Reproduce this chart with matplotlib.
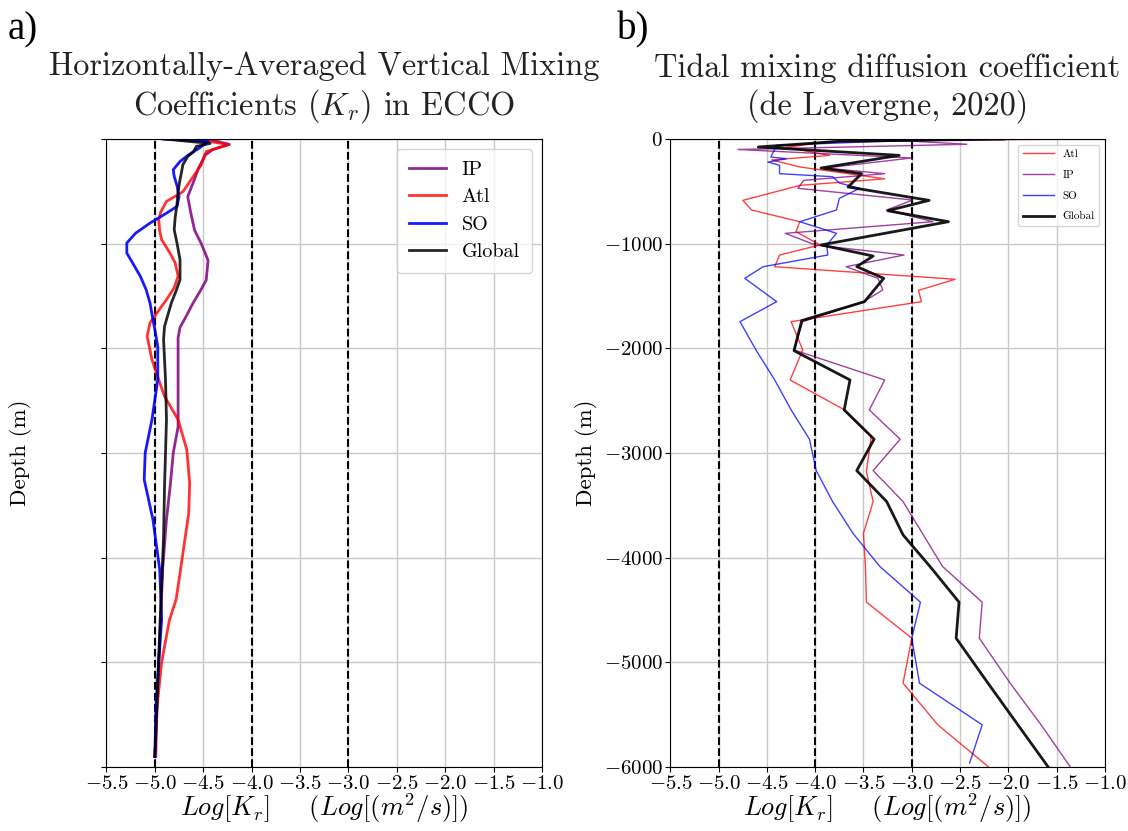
import matplotlib
matplotlib.use("Agg")
import matplotlib.pyplot as plt

plt.rcParams["font.family"] = "serif"
plt.rcParams["font.serif"] = ["cmr10", "DejaVu Serif"]
plt.rcParams["mathtext.fontset"] = "cm"
plt.rcParams["axes.formatter.use_mathtext"] = True
plt.rcParams["axes.unicode_minus"] = True

# ---------------- Panel a: ECCO horizontally averaged log10(Kr) ----------------
ecco_ip_depth = [0, -52, -100, -153, -280, -408, -550, -700, -870, -1000, -1160, -1350,
                 -1450, -1575, -1700, -1800, -1900, -2200, -2500, -2750, -3000, -3300,
                 -3636, -4113, -4600, -5000, -5500, -5900]
ecco_ip_kr = [-4.45, -4.23, -4.40, -4.48, -4.55, -4.60, -4.66, -4.63, -4.59, -4.52, -4.45,
              -4.47, -4.53, -4.61, -4.68, -4.74, -4.76, -4.76, -4.76, -4.76, -4.81, -4.84,
              -4.88, -4.92, -4.94, -4.96, -4.98, -5.00]

ecco_atl_depth = [0, -52, -121, -245, -408, -503, -596, -700, -771, -880, -962, -1080,
                  -1183, -1310, -1420, -1535, -1650, -1756, -1885, -2108, -2300, -2458,
                  -2681, -2968, -3287, -3574, -3957, -4398, -4597, -5000, -5450, -5897]
ecco_atl_kr = [-4.60, -4.24, -4.47, -4.52, -4.64, -4.71, -4.88, -4.94, -4.96, -4.95, -4.93,
               -4.85, -4.79, -4.76, -4.80, -4.88, -4.97, -5.05, -5.08, -5.03, -4.96, -4.90,
               -4.76, -4.67, -4.64, -4.65, -4.71, -4.78, -4.85, -4.93, -4.98, -4.99]

ecco_so_depth = [0, -20, -86, -150, -214, -293, -357, -450, -548, -643, -720, -803, -900,
                 -994, -1089, -1200, -1312, -1440, -1567, -1726, -1821, -1981, -2299,
                 -2681, -2999, -3254, -3636, -4113, -4590, -5000, -5450, -5900]
ecco_so_kr = [-4.92, -4.45, -4.54, -4.65, -4.74, -4.81, -4.80, -4.77, -4.75, -4.77, -4.90,
              -5.05, -5.20, -5.29, -5.29, -5.22, -5.15, -5.09, -5.05, -5.02, -5.00, -4.97,
              -4.97, -5.03, -5.10, -5.11, -5.02, -4.95, -4.93, -4.96, -4.99, -5.00]

ecco_glob_depth = [0, -42, -70, -121, -166, -245, -389, -500, -612, -750, -866, -1000,
                   -1153, -1344, -1450, -1567, -1790, -1917, -2300, -2681, -3000, -3318,
                   -3800, -4272, -4700, -5200, -5900]
ecco_glob_kr = [-4.90, -4.43, -4.57, -4.60, -4.66, -4.71, -4.74, -4.76, -4.77, -4.79, -4.80,
                -4.77, -4.74, -4.74, -4.78, -4.83, -4.90, -4.91, -4.89, -4.88, -4.89, -4.90,
                -4.91, -4.93, -4.95, -4.97, -5.00]

# ---------------- Panel b: de Lavergne (2020) tidal mixing ----------------
tid_atl_depth = [0, -22, -80, -156, -200, -267, -300, -380, -443, -586, -678, -790, -885,
                 -1012, -1108, -1220, -1340, -1446, -1554, -1745, -2015, -2302, -2581,
                 -2842, -3177, -3464, -3766, -4085, -4425, -4769, -5199, -5597, -5995]
tid_atl_kr = [-1.28, -3.83, -4.30, -3.85, -4.45, -4.16, -3.90, -3.28, -4.16, -4.75, -4.66,
              -4.16, -4.20, -3.95, -4.37, -4.42, -2.55, -2.93, -2.90, -4.25, -4.13, -4.26,
              -3.71, -3.42, -3.47, -3.40, -3.50, -3.48, -3.47, -3.00, -3.09, -2.73, -2.21]

tid_ip_depth = [0, -50, -100, -181, -277, -331, -395, -471, -583, -678, -790, -901, -1012,
                -1108, -1220, -1331, -1442, -1554, -1745, -2015, -2302, -2588, -2868,
                -3168, -3464, -3782, -4085, -4425, -4769, -5199, -5597, -5995]
tid_ip_kr = [-3.40, -2.43, -4.80, -3.00, -3.90, -3.28, -4.12, -4.18, -2.99, -3.26, -2.78,
             -4.31, -4.00, -3.08, -3.68, -3.35, -3.30, -3.50, -4.13, -4.22, -3.28, -3.44,
             -3.12, -3.40, -3.09, -2.88, -2.68, -2.27, -2.30, -1.98, -1.66, -1.36]

tid_so_depth = [0, -22, -60, -172, -188, -220, -251, -331, -360, -420, -471, -567, -678,
                -790, -901, -1012, -1108, -1220, -1331, -1554, -1745, -2022, -2302, -2588,
                -2868, -3168, -3464, -3766, -4085, -4425, -4769, -5199, -5597, -5960]
tid_so_kr = [-2.09, -3.30, -4.40, -4.46, -4.30, -4.49, -4.37, -4.37, -3.82, -3.75, -3.54,
             -3.75, -3.78, -4.16, -3.78, -3.88, -3.87, -4.54, -4.73, -4.40, -4.78, -4.61,
             -4.42, -4.25, -4.06, -3.99, -3.82, -3.61, -3.33, -2.91, -3.00, -2.92, -2.27,
             -2.40]

tid_glob_depth = [0, -22, -76, -156, -277, -331, -458, -586, -685, -790, -1012, -1118,
                  -1219, -1331, -1554, -1735, -2022, -2302, -2588, -2868, -3168, -3464,
                  -3782, -4085, -4425, -4769, -5199, -5597, -5995]
tid_glob_kr = [-2.04, -3.75, -4.59, -3.13, -3.94, -3.52, -3.66, -2.82, -3.25, -2.62, -3.94,
               -3.40, -3.57, -3.29, -3.49, -4.14, -4.22, -3.64, -3.70, -3.39, -3.57, -3.26,
               -3.09, -2.81, -2.51, -2.54, -2.21, -1.90, -1.59]

reference_levels = [-5, -4, -3]
xticks = [-5.5, -5.0, -4.5, -4.0, -3.5, -3.0, -2.5, -2.0, -1.5, -1.0]
yticks = [0, -1000, -2000, -3000, -4000, -5000, -6000]

fig = plt.figure(figsize=(11.28, 8.31), dpi=100)
ax_a = fig.add_axes([0.0944, 0.077, 0.386, 0.7557])
ax_b = fig.add_axes([0.5944, 0.077, 0.385, 0.7557])

xlabel = r"$Log[K_r]\quad\ \ (Log[(m^2/s)])$"

for ax in (ax_a, ax_b):
    ax.set_xlim(-5.5, -1.0)
    ax.set_ylim(-6000, 0)
    ax.set_xticks(xticks)
    ax.set_yticks(yticks)
    ax.grid(True, color="#c8c8c8", linewidth=1.0)
    ax.set_axisbelow(True)
    for lv in reference_levels:
        ax.axvline(lv, color="black", linestyle="--", linewidth=1.5, zorder=1.5)
    ax.tick_params(labelsize=15, pad=2)
    ax.set_xlabel(xlabel, fontsize=19, labelpad=-1)
    ax.set_ylabel("Depth (m)", fontsize=16.5)

# Panel a
ax_a.plot(ecco_ip_kr, ecco_ip_depth, color="purple", lw=2.0, alpha=0.85, label="IP")
ax_a.plot(ecco_atl_kr, ecco_atl_depth, color="red", lw=2.0, alpha=0.8, label="Atl")
ax_a.plot(ecco_so_kr, ecco_so_depth, color="blue", lw=2.0, alpha=0.9, label="SO")
ax_a.plot(ecco_glob_kr, ecco_glob_depth, color="black", lw=2.0, alpha=0.85, label="Global")
ax_a.tick_params(axis="y", labelleft=False)
ax_a.yaxis.set_label_coords(-0.17, 0.5)
ax_a.legend(loc="upper right", fontsize=14.5, handlelength=1.8, borderpad=0.6,
            labelspacing=0.45)
ax_a.set_title("Horizontally-Averaged Vertical Mixing\nCoefficients ($K_r$) in ECCO",
               fontsize=23.3, pad=18, color="#222222")

# Panel b
ax_b.plot(tid_atl_kr, tid_atl_depth, color="red", lw=1.0, alpha=0.75, label="Atl")
ax_b.plot(tid_ip_kr, tid_ip_depth, color="purple", lw=1.0, alpha=0.75, label="IP")
ax_b.plot(tid_so_kr, tid_so_depth, color="blue", lw=1.0, alpha=0.75, label="SO")
ax_b.plot(tid_glob_kr, tid_glob_depth, color="black", lw=2.0, alpha=0.9, label="Global")
ax_b.legend(loc="upper right", fontsize=8, handlelength=2.8, labelspacing=1.0)
ax_b.set_title("Tidal mixing diffusion coefficient\n(de Lavergne, 2020)",
               fontsize=23.3, pad=18, color="#222222")

fig.text(0.007, 0.952, "a)", fontsize=28, family="Liberation Serif")
fig.text(0.547, 0.952, "b)", fontsize=28, family="Liberation Serif")

fig.savefig("out.png", dpi=100)
